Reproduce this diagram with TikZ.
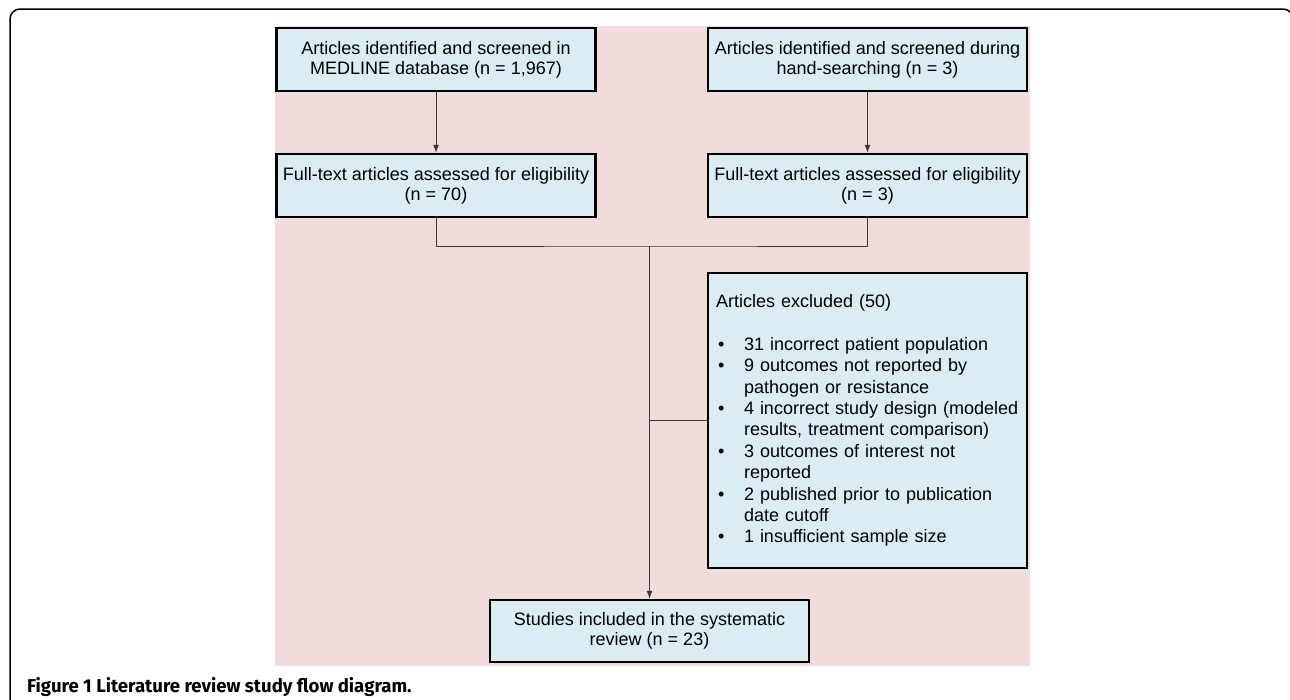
\documentclass[tikz,border=0pt]{standalone}
\usepackage{fontspec}
\setmainfont{Liberation Sans}
\newfontfamily\capfont{Fira Sans}
\usepackage{xcolor}
\usepackage{tikz}
\usetikzlibrary{arrows.meta}

\definecolor{boxblue}{RGB}{219,236,242}
\definecolor{bgpink}{RGB}{242,219,219}
\definecolor{linegray}{RGB}{55,55,55}

% one bullet line of the exclusion list
\newcommand{\exitem}[1]{{\hangindent=28pt\hangafter=1\noindent\makebox[28pt][l]{\hspace{2pt}\textbullet}#1\par}}

\begin{document}
\begin{tikzpicture}[x=1pt, y=-1pt, >={Latex[length=8pt,width=6pt]},
  box/.style={draw, line width=2.5pt, fill=boxblue, minimum width=319pt, minimum height=63pt, inner sep=0pt, align=center, font=\fontsize{18}{20}\selectfont},
  link/.style={linegray, line width=1pt}]
\useasboundingbox (0,0) rectangle (1290,699);
\draw [line width=1.5pt, rounded corners=10pt] (10,720) -- (10,9) -- (1293,9) -- (1293,720);
\fill [bgpink] (275,26) rectangle (1030,666);

\node (MED) at (436,59.5) [box] {Articles identified and screened in\\MEDLINE database (n = 1,967)};
\node (HAND) at (867.5,59.5) [box] {Articles identified and screened during\\hand-searching (n = 3)};
\node (FTA) at (436,185.5) [box] {Full-text articles assessed for eligibility\\(n = 70)};
\node (FTB) at (867.5,185.5) [box] {Full-text articles assessed for eligibility\\(n = 3)};
\draw [->, link] (MED) -- (FTA);
\draw [->, link] (HAND) -- (FTB);

\coordinate (J) at (649.5,246);
\draw [link] (FTA) |- (J) -| (FTB);

\node (EXC) at (867.5,420.5) [box, minimum height=295pt, text width=303pt, align=left, font=\fontsize{18}{21.4}\selectfont] {Articles excluded (50)\par\vspace{21.4pt}
\exitem{31 incorrect patient population}
\exitem{9 outcomes not reported by\newline pathogen or resistance}
\exitem{4 incorrect study design (modeled\newline results, treatment comparison)}
\exitem{3 outcomes of interest not\newline reported}
\exitem{2 published prior to publication\newline date cutoff}
\exitem{1 insufficient sample size}};
\coordinate (K) at (J |- EXC.west);
\draw [link] (K) -- (EXC);

\node (INC) at (649.5,631) [box, minimum height=62pt] {Studies included in the systematic\\review (n = 23)};
\draw [->, link] (J) -- (INC);

\node (CAP) at (27,692) [anchor=base west, inner sep=0pt, font=\capfont\bfseries\fontsize{18.6}{21}\selectfont] {Figure 1 Literature review study flow diagram.};
\end{tikzpicture}
\end{document}
